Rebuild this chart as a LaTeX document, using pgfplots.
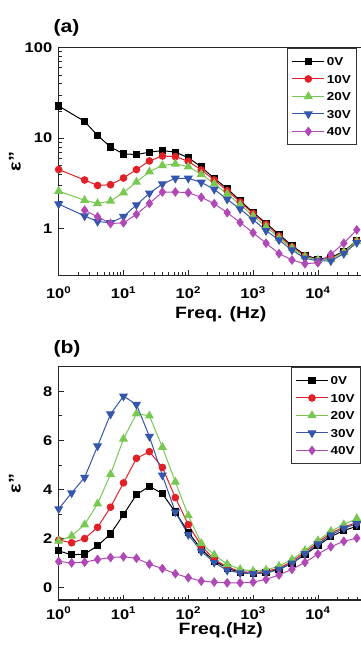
\documentclass[border=0pt]{standalone}
\usepackage{fontspec}
\setmainfont{Liberation Sans}[FakeStretch=1.18]
\usepackage{pgfplots}
\pgfplotsset{compat=1.18}
\usepackage{pgfplotstable}

\definecolor{cR}{RGB}{226,32,40}
\definecolor{cG}{RGB}{122,200,84}
\definecolor{cB}{RGB}{52,86,172}
\definecolor{cP}{RGB}{176,72,182}

\pgfplotstableread{
x s0 s1 s2 s3 s4
1 22.7 4.5 2.6 1.87 nan
2.512 15.3 3.45 2.06 1.38 1.6
3.981 10.7 3.0 1.9 1.2 1.35
6.310 8.0 3.06 2.02 1.16 1.14
10 6.7 3.63 2.5 1.36 1.16
15.85 6.6 4.5 3.28 1.83 1.44
25.12 7.0 5.6 4.26 2.46 1.9
39.81 7.3 6.35 5.0 3.12 2.54
63.10 7.0 6.25 5.2 3.6 2.54
100 6.1 5.55 4.84 3.6 2.5
158.5 4.8 4.45 4.0 3.25 2.22
251.2 3.6 3.45 3.14 2.72 1.89
398.1 2.77 2.63 2.42 2.11 1.5
631.0 2.04 1.97 1.84 1.65 1.17
1000 1.51 1.47 1.38 1.26 0.90
1585 1.15 1.12 1.05 0.95 0.69
2512 0.86 0.83 0.79 0.75 0.53
3981 0.65 0.63 0.61 0.58 0.45
6310 0.51 0.50 0.49 0.47 0.41
10000 0.46 0.45 0.45 0.44 0.42
15850 0.48 0.47 0.46 0.44 0.52
25120 0.56 0.55 0.55 0.53 0.69
39810 0.74 0.73 0.72 0.70 0.97
}\tabA

\pgfplotstableread{
x s0 s1 s2 s3 s4
1 1.50 1.94 1.90 3.21 1.07
1.585 1.34 1.83 2.11 3.86 1.01
2.512 1.37 2.0 2.57 4.49 1.04
3.981 1.71 2.46 3.42 5.77 1.15
6.310 2.19 3.28 4.62 7.07 1.23
10 2.98 4.27 6.06 7.8 1.26
15.85 3.79 5.27 7.09 7.46 1.20
25.12 4.13 5.54 7.0 6.16 0.96
39.81 3.83 4.90 5.72 4.58 0.78
63.10 3.08 3.67 4.31 3.08 0.57
100 2.26 2.57 2.94 2.16 0.41
158.5 1.57 1.71 1.81 1.48 0.27
251.2 1.09 1.15 1.34 1.03 0.23
398.1 0.80 0.85 0.96 0.71 0.20
631.0 0.62 0.66 0.75 0.60 0.20
1000 0.58 0.62 0.68 0.57 0.23
1585 0.62 0.66 0.72 0.60 0.34
2512 0.75 0.80 0.88 0.74 0.52
3981 1.0 1.07 1.15 1.0 0.75
6310 1.35 1.45 1.52 1.38 1.03
10000 1.72 1.85 1.92 1.78 1.37
15850 2.08 2.22 2.30 2.15 1.67
25120 2.33 2.48 2.57 2.42 1.89
39810 2.50 2.65 2.82 2.60 2.02
}\tabB

\tikzset{
  s0/.style={black, mark=square*, mark size=3.1bp},
  s1/.style={cR, mark=*, mark size=3.3bp},
  s2/.style={cG, mark=triangle*, mark size=4.3bp},
  s3/.style={cB, mark=triangle*, mark size=4.3bp, mark options={rotate=180}},
  s4/.style={cP, mark=diamond*, mark size=4.1bp},
}

\pgfplotsset{
  every axis/.append style={
    scale only axis, width=324bp,
    xmode=log, xmin=1, xmax=1e5,
    axis line style={line width=1.2bp, black!85},
    tick align=inside, xtick pos=bottom, ytick pos=left,
    major tick length=5bp, minor tick length=3bp,
    every tick/.style={black!85, line width=0.8bp},
    xtick={1,10,100,1000,10000,100000},
    xticklabels={10\textsuperscript{0},10\textsuperscript{1},10\textsuperscript{2},10\textsuperscript{3},10\textsuperscript{4},{}},
    tick label style={font=\fontsize{14}{14}\selectfont\bfseries},
    yticklabel style={anchor=east, xshift=-3bp},
    label style={font=\fontsize{16.5}{16.5}\selectfont\bfseries},
    ylabel style={at={(axis description cs:-0.135,0.5)}, anchor=center, font=\fontsize{17}{17}\selectfont\bfseries},
    legend style={draw=black!80, line width=1bp, anchor=north west,
      font=\fontsize{11.5}{11.5}\selectfont\bfseries,
      inner xsep=4bp, inner ysep=7bp, row sep=5bp,
      nodes={inner sep=2bp, text height=8.5bp, text depth=0bp},
      cells={anchor=west}},
    legend image code/.code={\draw[mark repeat=2,mark phase=2] plot coordinates {(0bp,0bp) (16bp,0bp) (32bp,0bp)};},
    every axis plot/.append style={line width=1bp},
  },
}

\begin{document}
\begin{tikzpicture}
\path[use as bounding box] (0,0) rectangle (361bp,-650bp);

\begin{axis}[
  at={(58.7bp,-275.3bp)}, anchor=south west, height=227.6bp,
  ymode=log, ymin=0.305, ymax=100,
  ytick={1,10,100}, yticklabels={1,10,100},
  ylabel={ε\char"22}, xlabel={Freq. (Hz)},
  xticklabel style={anchor=base, yshift=-23bp, inner sep=0pt},
  xlabel style={at={(axis description cs:0.5,0)}, anchor=base, yshift=-43bp, inner sep=0pt},
  legend style={at={(0.7056,1)}},
]
\addplot[s0] table[x=x,y=s0]{\tabA}; \addlegendentry{0V\hspace{45bp}}
\addplot[s1] table[x=x,y=s1]{\tabA}; \addlegendentry{10V}
\addplot[s2] table[x=x,y=s2]{\tabA}; \addlegendentry{20V}
\addplot[s3] table[x=x,y=s3]{\tabA}; \addlegendentry{30V}
\addplot[s4] table[x=x,y=s4]{\tabA}; \addlegendentry{40V}
\end{axis}

\begin{axis}[
  at={(58.7bp,-600bp)}, anchor=south west, height=233.3bp,
  ymin=-0.5, ymax=9,
  ytick={0,2,4,6,8}, yticklabels={0,2,4,6,8}, minor y tick num=1,
  ylabel={ε\char"22}, xlabel={Freq.(Hz)},
  xticklabel style={anchor=base, yshift=-19bp, inner sep=0pt},
  xlabel style={at={(axis description cs:0.5,0)}, anchor=base, yshift=-34.5bp, inner sep=0pt},
  legend style={at={(0.717,1)}},
]
\addplot[s0] table[x=x,y=s0]{\tabB}; \addlegendentry{0V\hspace{45bp}}
\addplot[s1] table[x=x,y=s1]{\tabB}; \addlegendentry{10V}
\addplot[s2] table[x=x,y=s2]{\tabB}; \addlegendentry{20V}
\addplot[s3] table[x=x,y=s3]{\tabB}; \addlegendentry{30V}
\addplot[s4] table[x=x,y=s4]{\tabB}; \addlegendentry{40V}
\end{axis}

\node[anchor=base west, inner sep=0, font=\fontsize{18}{18}\selectfont\bfseries] at (53.3bp,-32.3bp) {(a)};
\node[anchor=base west, inner sep=0, font=\fontsize{18}{18}\selectfont\bfseries] at (53.3bp,-353.3bp) {(b)};
\end{tikzpicture}
\end{document}
